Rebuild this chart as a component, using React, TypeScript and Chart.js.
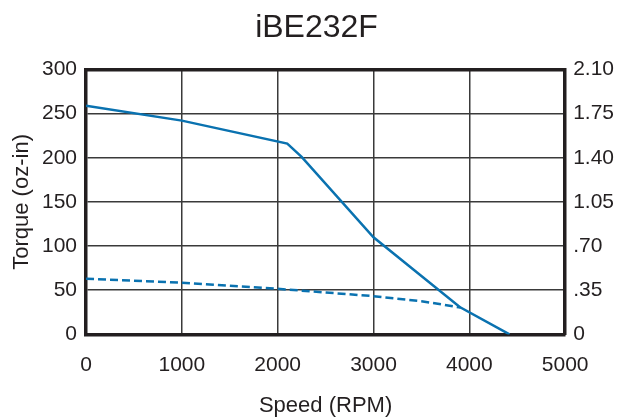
import React, { useEffect, useRef } from "react";
import { Chart, registerables } from "chart.js";

Chart.register(...registerables);

const titleText = "iBE232F";
const xTitle = "Speed (RPM)";
const yTitle = "Torque (oz-in)";

const xTicks = [0, 1000, 2000, 3000, 4000, 5000];
const leftTicks = [0, 50, 100, 150, 200, 250, 300];
const rightTicks = [0, 0.35, 0.7, 1.05, 1.4, 1.75, 2.1];
const rightLabels = ["0", ".35", ".70", "1.05", "1.40", "1.75", "2.10"];

const torqueSpeeds = [0, 1000, 2100, 2250, 3000, 3900, 4420];
const torqueValues = [259, 242, 216, 201, 110, 31, 0];

const dashedSpeeds = [0, 1000, 2000, 3000, 3500, 3910];
const dashedValues = [63, 58.5, 51.6, 43.3, 37.6, 30.4];

const lineColor = "#0a72b0";
const ink = "#231f20";
const font = "Arial, 'Liberation Sans', sans-serif";

export default function App() {
  const ref = useRef<HTMLCanvasElement | null>(null);
  useEffect(() => {
    document.body.style.margin = "0";
    document.body.style.overflow = "hidden";
    const ctx = ref.current!.getContext("2d")!;
    const mk = (xs: number[], ys: number[]) => xs.map((x, i) => ({ x, y: ys[i] }));
    const chart = new Chart(ctx, {
      type: "line",
      data: {
        datasets: [
          {
            data: mk(torqueSpeeds, torqueValues),
            borderColor: lineColor,
            borderWidth: 2.5,
            pointRadius: 0,
            fill: false,
            tension: 0,
            yAxisID: "y",
          },
          {
            data: mk(dashedSpeeds, dashedValues),
            borderColor: lineColor,
            borderWidth: 2.5,
            borderDash: [8, 4],
            pointRadius: 0,
            fill: false,
            tension: 0,
            yAxisID: "y",
          },
        ],
      },
      options: {
        animation: false,
        responsive: false,
        layout: { padding: { left: 11, right: -4, top: 9, bottom: 0 } },
        plugins: {
          legend: { display: false },
          tooltip: { enabled: false },
          title: {
            display: true,
            text: titleText,
            color: ink,
            font: { family: font, size: 32, weight: "normal" },
            padding: { top: 0, bottom: 22 },
          },
        },
        scales: {
          x: {
            type: "linear",
            min: 0,
            max: 5000,
            afterBuildTicks: (a: any) => {
              a.ticks = xTicks.map((v) => ({ value: v }));
            },
            ticks: {
              color: ink,
              font: { family: font, size: 21 },
              padding: 18,
              maxRotation: 0,
              callback: (v: any) => String(v),
            },
            grid: { color: "#3a3a3a", lineWidth: 1.5, drawTicks: false },
            border: { display: true, color: ink, width: 3.5 },
            title: {
              display: true,
              text: xTitle,
              color: ink,
              font: { family: font, size: 22 },
              padding: { top: -3, bottom: 0 },
            },
          },
          xTop: {
            type: "linear",
            position: "top",
            min: 0,
            max: 5000,
            ticks: { display: false },
            grid: { display: false, drawTicks: false },
            border: { display: true, color: ink, width: 3.5 },
          },
          y: {
            type: "linear",
            position: "left",
            min: 0,
            max: 300,
            afterBuildTicks: (a: any) => {
              a.ticks = leftTicks.map((v) => ({ value: v }));
            },
            ticks: {
              color: ink,
              font: { family: font, size: 21 },
              padding: 9,
              callback: (v: any) => String(v),
            },
            grid: { color: "#3a3a3a", lineWidth: 1.5, drawTicks: false },
            border: { display: true, color: ink, width: 3.5 },
            title: {
              display: true,
              text: yTitle,
              color: ink,
              font: { family: font, size: 22, lineHeight: 1 },
              padding: { top: 0, bottom: 0 },
            },
          },
          y1: {
            type: "linear",
            position: "right",
            min: 0,
            max: 2.1,
            afterBuildTicks: (a: any) => {
              a.ticks = rightTicks.map((v) => ({ value: v }));
            },
            ticks: {
              color: ink,
              font: { family: font, size: 21 },
              padding: 8,
              callback: (v: any) => {
                const i = rightTicks.findIndex((t) => Math.abs(t - v) < 1e-6);
                return i >= 0 ? rightLabels[i] : "";
              },
            },
            grid: { display: false, drawTicks: false },
            border: { display: true, color: ink, width: 3.5 },
          },
        },
      },
    });
    return () => chart.destroy();
  }, []);
  return <canvas ref={ref} width={618} height={419} style={{ display: "block" }} />;
}
